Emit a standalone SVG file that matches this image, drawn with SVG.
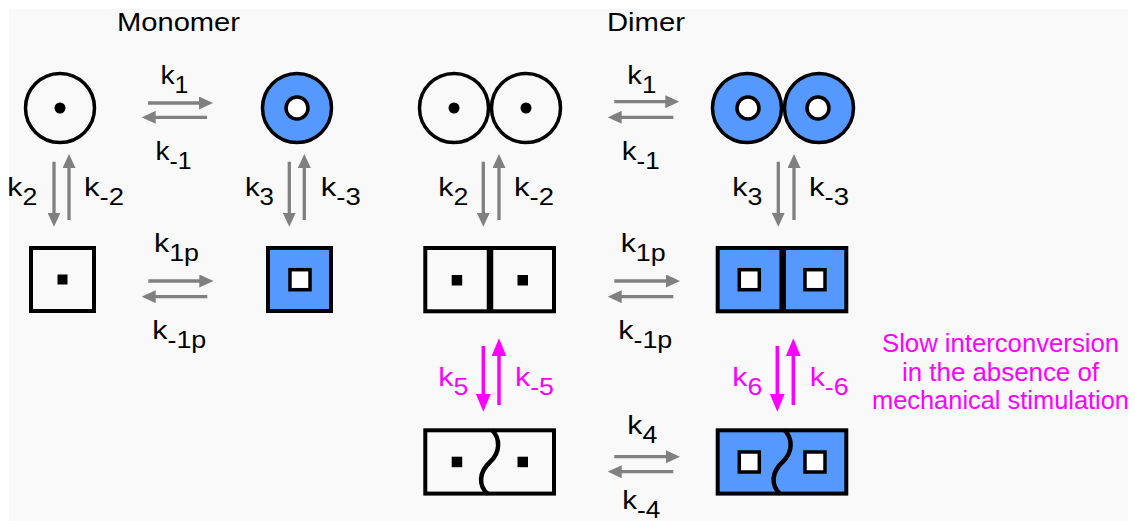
<svg xmlns="http://www.w3.org/2000/svg" width="1135" height="521" viewBox="0 0 1135 521">
<style>
.o{fill:none;stroke:#000;stroke-width:3.5}
.b{fill:#5599ff;stroke:#000;stroke-width:3.5}
.h{fill:#fff;stroke:#000;stroke-width:3.5}
.sq{fill:none;stroke:#000;stroke-width:4}
.bsq{fill:#5599ff;stroke:#000;stroke-width:4}
.dv{stroke:#000;stroke-width:6.5}
.wv{fill:none;stroke:#000;stroke-width:4.5}
text{font-family:"Liberation Sans",Arial,Helvetica,sans-serif;fill:#000;font-size:26px}
.s{font-size:23px}
.m{fill:#ff00ff}
.t{font-size:26px;text-anchor:middle}
.g line{stroke:#808080;stroke-width:3.3;marker-end:url(#ag)}
.p line{stroke:#ff00ff;stroke-width:3.5;marker-end:url(#am)}
</style>
<defs>
<marker id="ag" markerUnits="userSpaceOnUse" markerWidth="14" markerHeight="13" refX="1" refY="6.5" orient="auto"><path d="M0,0 L14,6.5 L0,13 z" fill="#808080"/></marker>
<marker id="am" markerUnits="userSpaceOnUse" markerWidth="18" markerHeight="15" refX="1" refY="7.5" orient="auto"><path d="M0,0 L18,7.5 L0,15 z" fill="#ff00ff"/></marker>
</defs>
<rect x="0" y="0" width="1135" height="521" fill="#fff"/>
<rect x="9" y="9" width="1119" height="512" fill="#f9f9f9"/>

<g id="titles">
<text x="117" y="31" textLength="123" lengthAdjust="spacingAndGlyphs">Monomer</text>
<text x="607" y="31" textLength="78" lengthAdjust="spacingAndGlyphs">Dimer</text>
</g>

<g id="mono-open-circle"><circle class="o" cx="60" cy="108" r="34.5"/><circle cx="60" cy="108" r="5.5"/></g>
<g id="mono-closed-circle"><circle class="b" cx="297" cy="108" r="34.5"/><circle class="h" cx="297" cy="108" r="11"/></g>
<g id="mono-open-square"><rect class="sq" x="31" y="248" width="63" height="63"/><rect x="57.5" y="274.5" width="10" height="10"/></g>
<g id="mono-closed-square"><rect class="bsq" x="268" y="248" width="63" height="63"/><rect class="h" x="290" y="269.7" width="20" height="20"/></g>

<g id="dimer-open-circle"><circle class="o" cx="454" cy="108" r="34.5"/><circle class="o" cx="526" cy="108" r="34.5"/><circle cx="454" cy="108" r="5.5"/><circle cx="526" cy="108" r="5.5"/></g>
<g id="dimer-closed-circle"><circle class="b" cx="747" cy="108" r="34.5"/><circle class="b" cx="819" cy="108" r="34.5"/><circle class="h" cx="748" cy="108" r="11"/><circle class="h" cx="818" cy="108" r="11"/></g>
<g id="dimer-open-square"><rect class="sq" x="425.3" y="248" width="128.7" height="63.3"/><line class="dv" x1="490" y1="248" x2="490" y2="311.3"/><rect x="451.7" y="275" width="10.5" height="10.5"/><rect x="517.5" y="275" width="10.5" height="10.5"/></g>
<g id="dimer-closed-square"><rect class="bsq" x="717.7" y="248" width="128.6" height="63.3"/><line class="dv" x1="782.7" y1="248" x2="782.7" y2="311.3"/><rect class="h" x="739.3" y="269.7" width="20" height="20"/><rect class="h" x="805" y="269.7" width="20" height="20"/></g>
<g id="dimer-open-split"><rect class="sq" x="425.3" y="430.3" width="128.7" height="63.3"/><path class="wv" d="M492,430 C500,438 501,452 490,462 C479,472 478,486 488,494"/><rect x="451.7" y="456.7" width="10.5" height="10.5"/><rect x="517.5" y="456.7" width="10.5" height="10.5"/></g>
<g id="dimer-closed-split"><rect class="bsq" x="717.7" y="430.3" width="128.6" height="63.3"/><path class="wv" d="M784.5,430 C792.5,438 793.5,452 782.5,462 C771.5,472 770.5,486 780.5,494"/><rect class="h" x="739.3" y="452" width="20" height="20"/><rect class="h" x="805" y="452" width="20" height="20"/></g>

<g id="connectors">
<g class="g">
<line x1="148" y1="103" x2="200" y2="103"/>
<line x1="207" y1="117.3" x2="154.7" y2="117.3"/>
<line x1="54" y1="161.7" x2="54" y2="213.7"/>
<line x1="69" y1="220" x2="69" y2="167"/>
<line x1="289.3" y1="161.7" x2="289.3" y2="213.7"/>
<line x1="304.3" y1="220" x2="304.3" y2="167"/>
<line x1="148.3" y1="281" x2="200.3" y2="281"/>
<line x1="207.3" y1="296.7" x2="154.7" y2="296.7"/>
<line x1="614.3" y1="101.7" x2="666.3" y2="101.7"/>
<line x1="673.3" y1="117.3" x2="620.7" y2="117.3"/>
<line x1="483.3" y1="161.7" x2="483.3" y2="213.7"/>
<line x1="499" y1="220" x2="499" y2="167"/>
<line x1="778.3" y1="161.7" x2="778.3" y2="213.7"/>
<line x1="794" y1="220" x2="794" y2="167"/>
<line x1="614.3" y1="281" x2="667" y2="281"/>
<line x1="673.3" y1="296.7" x2="620.7" y2="296.7"/>
<line x1="614.3" y1="456.7" x2="667" y2="456.7"/>
<line x1="673.3" y1="471.7" x2="620.7" y2="471.7"/>
</g>
<g class="p">
<line x1="483.3" y1="346" x2="483.3" y2="394.7"/>
<line x1="499" y1="405" x2="499" y2="355.3"/>
<line x1="777.3" y1="346" x2="777.3" y2="394.7"/>
<line x1="793.3" y1="405" x2="793.3" y2="355.3"/>
</g>
</g>

<g id="labels">
<text x="160.5" y="84" textLength="28" lengthAdjust="spacingAndGlyphs">k<tspan class="s" dy="9">1</tspan></text>
<text x="155.5" y="160" textLength="36" lengthAdjust="spacingAndGlyphs">k<tspan class="s" dy="9">-1</tspan></text>
<text x="7.3" y="196" textLength="30" lengthAdjust="spacingAndGlyphs">k<tspan class="s" dy="9">2</tspan></text>
<text x="84" y="196" textLength="40" lengthAdjust="spacingAndGlyphs">k<tspan class="s" dy="9">-2</tspan></text>
<text x="245" y="196" textLength="29" lengthAdjust="spacingAndGlyphs">k<tspan class="s" dy="9">3</tspan></text>
<text x="320.7" y="196" textLength="40" lengthAdjust="spacingAndGlyphs">k<tspan class="s" dy="9">-3</tspan></text>
<text x="154" y="252" textLength="45" lengthAdjust="spacingAndGlyphs">k<tspan class="s" dy="9">1p</tspan></text>
<text x="152.3" y="339" textLength="54" lengthAdjust="spacingAndGlyphs">k<tspan class="s" dy="9">-1p</tspan></text>
<text x="627.3" y="84" textLength="29" lengthAdjust="spacingAndGlyphs">k<tspan class="s" dy="9">1</tspan></text>
<text x="621.7" y="160" textLength="38" lengthAdjust="spacingAndGlyphs">k<tspan class="s" dy="9">-1</tspan></text>
<text x="438.3" y="196" textLength="30" lengthAdjust="spacingAndGlyphs">k<tspan class="s" dy="9">2</tspan></text>
<text x="514" y="196" textLength="40" lengthAdjust="spacingAndGlyphs">k<tspan class="s" dy="9">-2</tspan></text>
<text x="732.3" y="196" textLength="30" lengthAdjust="spacingAndGlyphs">k<tspan class="s" dy="9">3</tspan></text>
<text x="809" y="196" textLength="40" lengthAdjust="spacingAndGlyphs">k<tspan class="s" dy="9">-3</tspan></text>
<text x="620.7" y="252" textLength="45" lengthAdjust="spacingAndGlyphs">k<tspan class="s" dy="9">1p</tspan></text>
<text x="618.3" y="339" textLength="54" lengthAdjust="spacingAndGlyphs">k<tspan class="s" dy="9">-1p</tspan></text>
<text class="m" x="438.3" y="386" textLength="30" lengthAdjust="spacingAndGlyphs">k<tspan class="s" dy="9">5</tspan></text>
<text class="m" x="515" y="386" textLength="39" lengthAdjust="spacingAndGlyphs">k<tspan class="s" dy="9">-5</tspan></text>
<text class="m" x="732.3" y="386" textLength="30" lengthAdjust="spacingAndGlyphs">k<tspan class="s" dy="9">6</tspan></text>
<text class="m" x="809.7" y="386" textLength="39" lengthAdjust="spacingAndGlyphs">k<tspan class="s" dy="9">-6</tspan></text>
<text x="627.3" y="434" textLength="30" lengthAdjust="spacingAndGlyphs">k<tspan class="s" dy="9">4</tspan></text>
<text x="622.3" y="509" textLength="38" lengthAdjust="spacingAndGlyphs">k<tspan class="s" dy="9">-4</tspan></text>
</g>

<g id="note">
<text class="m t" x="1000.5" y="352" textLength="237" lengthAdjust="spacingAndGlyphs">Slow interconversion</text>
<text class="m t" x="1000.5" y="380.5" textLength="197" lengthAdjust="spacingAndGlyphs">in the absence of</text>
<text class="m t" x="1000.5" y="409" textLength="257" lengthAdjust="spacingAndGlyphs">mechanical stimulation</text>
</g>
</svg>
